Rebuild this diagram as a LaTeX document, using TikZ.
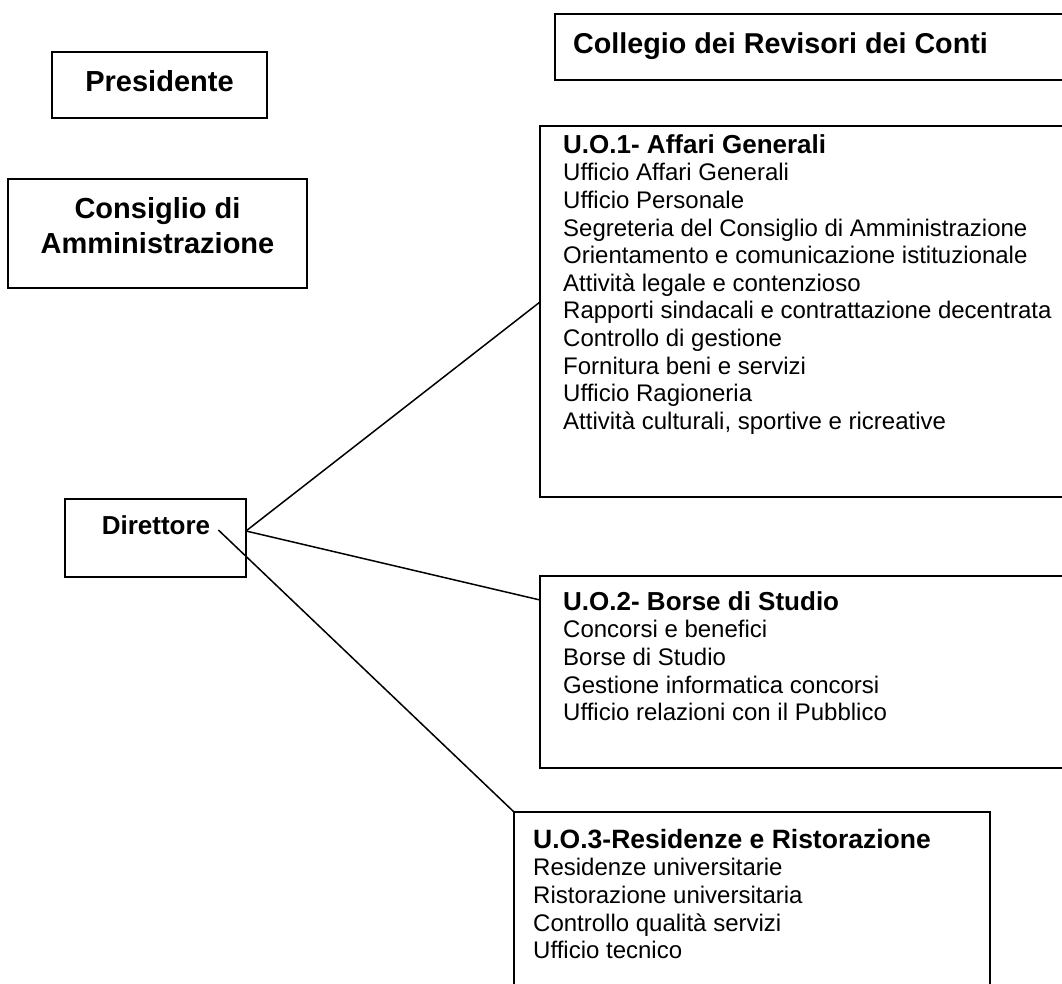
\documentclass[tikz,border=0pt]{standalone}
\usepackage{fontspec}
\setmainfont{Liberation Sans}
\usetikzlibrary{calc}
\begin{document}
\begin{tikzpicture}[x=1pt,y=-1pt,
  box/.style={draw,line width=2pt,inner sep=0pt,outer sep=0pt,anchor=north west},
  conn/.style={line width=1.5pt},
  title/.style={font=\bfseries\fontsize{29}{35}\selectfont,inner sep=0pt},
  body/.style={font=\fontsize{24}{27.6}\selectfont,align=left,inner sep=0pt,anchor=north west}]
\clip (0,0) rectangle (1062,984);
\fill[white] (0,0) rectangle (1062,984);
% boxes
\node[box,minimum width=215pt,minimum height=66pt] (pres) at (52,52) {};
\node[box,minimum width=299pt,minimum height=109pt] (cons) at (8,179) {};
\node[box,minimum width=560pt,minimum height=66pt] (coll) at (555,14) {};
\node[box,minimum width=181pt,minimum height=78pt] (dir) at (65,499) {};
\node[box,minimum width=560pt,minimum height=371pt] (uo1) at (540,126) {};
\node[box,minimum width=560pt,minimum height=192pt] (uo2) at (540,576) {};
\node[box,minimum width=476pt,minimum height=200pt] (uo3) at (514,812) {};
% titles
\node[title,anchor=base] (prest) at (159.5,92) {Presidente};
\node[title,anchor=north,align=center] (const) at (157.5,194) {\rule{0pt}{24pt}Consiglio di\\Amministrazione};
\node[title,anchor=base west,font=\bfseries\fontsize{28.7}{34}\selectfont] (collt) at (573,54) {Collegio dei Revisori dei Conti};
\node[title,anchor=base,font=\bfseries\fontsize{26}{30}\selectfont] (dirt) at (156,534) {Direttore};
% unit texts
\node[body] (uo1t) at (563,133) {\rule{0pt}{20pt}{\bfseries\fontsize{26}{27.6}\selectfont U.O.1- Affari Generali}\\
Ufficio Affari Generali\\
Ufficio Personale\\
Segreteria del Consiglio di Amministrazione\\
Orientamento e comunicazione istituzionale\\
Attività legale e contenzioso\\
Rapporti sindacali e contrattazione decentrata\\
Controllo di gestione\\
Fornitura beni e servizi\\
Ufficio Ragioneria\\
Attività culturali, sportive e ricreative};
\node[body] (uo2t) at (563,590) {\rule{0pt}{20pt}{\bfseries\fontsize{26}{27.6}\selectfont U.O.2- Borse di Studio}\\
Concorsi e benefici\\
Borse di Studio\\
Gestione informatica concorsi\\
Ufficio relazioni con il Pubblico};
\node[body] (uo3t) at (533,828) {\rule{0pt}{20pt}{\bfseries\fontsize{26.5}{27.6}\selectfont U.O.3-Residenze e Ristorazione}\\
Residenze universitarie\\
Ristorazione universitaria\\
Controllo qualità servizi\\
Ufficio tecnico};
% connectors
\draw[conn] ($(dir.north east)!0.41!(dir.south east)$) -- ($(uo1.north west)+(0,176)$);
\draw[conn] ($(dir.north east)!0.41!(dir.south east)$) -- ($(uo2.north west)+(0,24)$);
\draw[conn] ($(dirt.base east)+(8,-4)$) -- (uo3.north west);
\end{tikzpicture}
\end{document}
